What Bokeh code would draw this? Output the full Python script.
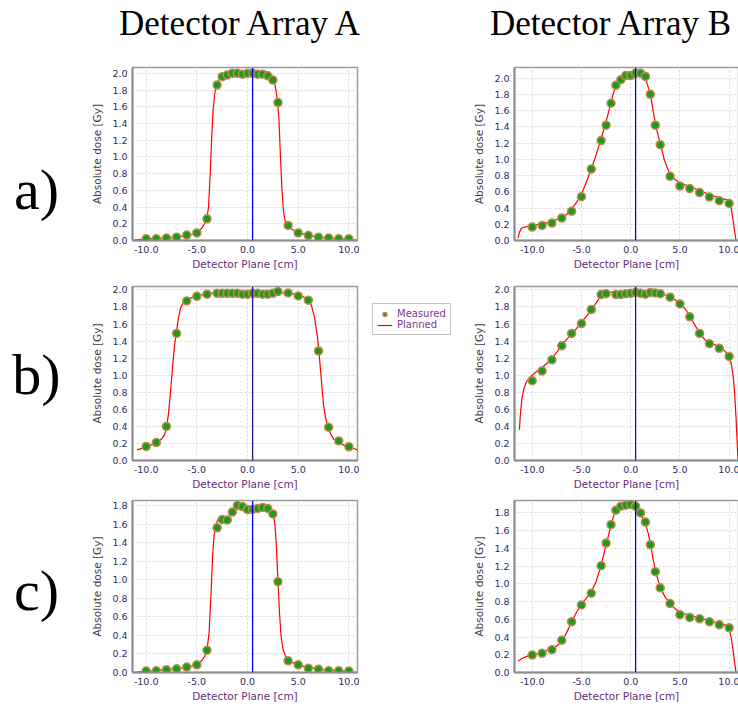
from bokeh.plotting import figure
from bokeh.layouts import column, row, Spacer
from bokeh.models import (Span, Legend, LegendItem, FixedTicker,
                          PrintfTickFormatter, Range1d)
from bokeh.core.properties import value
from bokeh.embed import file_html
from bokeh.resources import INLINE

# ---------------- data ----------------
x_ticks = [-10, -5, 0, 5, 10]
y_ticks_20 = [0.0, 0.2, 0.4, 0.6, 0.8, 1.0, 1.2, 1.4, 1.6, 1.8, 2.0]
y_ticks_18 = [0.0, 0.2, 0.4, 0.6, 0.8, 1.0, 1.2, 1.4, 1.6, 1.8]
ref_line_cm = 0.5
column_titles = ["Detector Array A", "Detector Array B"]
row_labels = ["a)", "b)", "c)"]
series_names = ["Measured", "Planned"]

det_pos = [-10, -9, -8, -7, -6, -5, -4, -3, -2.5, -2, -1.5, -1, -0.5, 0,
           0.5, 1, 1.5, 2, 2.5, 3, 4, 5, 6, 7, 8, 9, 10]
det_pos_bb = [-10, -9, -8, -7, -6, -5, -4, -3, -2.5, -1.5, -1, -0.5, 0,
              0.5, 1, 1.5, 2, 2.5, 3, 4, 5, 6, 7, 8, 9, 10]

# a) Array A
meas_aA = [0.02, 0.02, 0.03, 0.04, 0.065, 0.09, 0.26, 1.86, 1.96, 1.98, 2.0, 2.0,
           1.99, 2.0, 2.0, 1.99, 1.99, 1.97, 1.92, 1.65, 0.18, 0.09, 0.06, 0.04,
           0.03, 0.02, 0.02]
plan_x_aA = [-11.2, -10.5, -10, -9, -8, -7, -6, -5.5, -5, -4.5, -4.2, -4.0, -3.85,
             -3.7, -3.55, -3.4, -3.25, -3.1, -2.9, -2.7, -2.4, -2.0, -1.5, -1.0,
             -0.5, 0, 0.5, 1.0, 1.5, 2.0, 2.4, 2.65, 2.8, 2.95, 3.1, 3.25, 3.4,
             3.55, 3.7, 3.9, 4.2, 4.6, 5, 5.5, 6, 7, 8, 9, 10, 10.7]
plan_y_aA = [0.005, 0.015, 0.02, 0.025, 0.03, 0.04, 0.06, 0.075, 0.10, 0.15, 0.21,
             0.27, 0.4, 0.75, 1.2, 1.55, 1.75, 1.84, 1.91, 1.95, 1.97, 1.99, 2.0,
             2.0, 2.0, 2.0, 2.0, 2.0, 1.99, 1.97, 1.94, 1.90, 1.8, 1.68, 1.45, 1.0,
             0.6, 0.35, 0.24, 0.18, 0.15, 0.12, 0.10, 0.08, 0.06, 0.04, 0.03, 0.02,
             0.015, 0.005]

# a) Array B
meas_aB = [0.165, 0.185, 0.214, 0.276, 0.36, 0.54, 0.88, 1.23, 1.42, 1.69, 1.91,
           1.98, 2.03, 2.03, 2.06, 2.06, 2.02, 1.80, 1.42, 1.18, 0.79, 0.67, 0.64,
           0.59, 0.535, 0.49, 0.457]
plan_x_aB = [-11.45, -11.3, -11.1, -10.8, -10.4, -10, -9, -8, -7, -6.5, -6, -5.5,
             -5, -4.5, -4, -3.5, -3, -2.5, -2, -1.7, -1.4, -1, -0.5, 0, 0.5, 1.0,
             1.3, 1.6, 2.0, 2.3, 2.6, 3.0, 3.4, 3.7, 4.0, 4.5, 5, 6, 7, 8, 9, 9.5,
             9.8, 10.0, 10.2, 10.4, 10.55, 10.7]
plan_y_aB = [0.03, 0.1, 0.15, 0.165, 0.175, 0.185, 0.205, 0.235, 0.28, 0.32, 0.39,
             0.47, 0.57, 0.72, 0.88, 1.06, 1.25, 1.46, 1.70, 1.84, 1.92, 1.98, 2.02,
             2.04, 2.07, 2.07, 2.04, 1.96, 1.80, 1.58, 1.38, 1.20, 1.0, 0.9, 0.82,
             0.75, 0.71, 0.665, 0.615, 0.565, 0.525, 0.51, 0.5, 0.48, 0.40, 0.25,
             0.12, 0.0]

# b) Array A
meas_bA = [0.165, 0.21, 0.40, 1.49, 1.87, 1.925, 1.95, 1.96, 1.96, 1.96, 1.96,
           1.96, 1.95, 1.95, 1.96, 1.96, 1.95, 1.95, 1.96, 1.98, 1.965, 1.93, 1.88,
           1.285, 0.39, 0.23, 0.16]
plan_x_bA = [-10.9, -10.5, -10, -9.5, -9, -8.5, -8.2, -8.0, -7.8, -7.6, -7.4, -7.2,
             -7.0, -6.8, -6.6, -6.3, -6.0, -5.5, -5, -4, -3, -2, -1, 0, 1, 2, 3, 4,
             5, 5.5, 6, 6.3, 6.6, 6.9, 7.1, 7.3, 7.5, 7.7, 7.9, 8.2, 8.5, 9, 9.5,
             10, 10.5, 10.9]
plan_y_bA = [0.125, 0.14, 0.16, 0.18, 0.21, 0.25, 0.30, 0.38, 0.55, 0.8, 1.1, 1.35,
             1.52, 1.68, 1.79, 1.86, 1.89, 1.91, 1.93, 1.955, 1.97, 1.975, 1.975,
             1.975, 1.975, 1.97, 1.97, 1.96, 1.945, 1.92, 1.88, 1.82, 1.68, 1.45,
             1.2, 0.92, 0.65, 0.5, 0.4, 0.31, 0.25, 0.21, 0.18, 0.16, 0.14, 0.12]

# b) Array B
meas_bB = [0.935, 1.05, 1.18, 1.345, 1.49, 1.605, 1.77, 1.945, 1.955, 1.945, 1.945,
           1.955, 1.96, 1.97, 1.96, 1.95, 1.97, 1.965, 1.955, 1.915, 1.835, 1.685,
           1.49, 1.37, 1.315, 1.22]
plan_x_bB = [-11.3, -11.2, -11.05, -10.85, -10.6, -10.3, -10, -9.5, -9, -8.5, -8,
             -7.5, -7, -6.5, -6, -5.5, -5, -4.5, -4, -3.5, -3, -2.5, -2, -1, 0, 1,
             2, 2.5, 3, 3.5, 4, 4.5, 5, 5.5, 6, 6.5, 7, 7.5, 8, 8.5, 9, 9.5, 10,
             10.2, 10.4, 10.55, 10.7, 10.8, 10.9]
plan_y_bB = [0.36, 0.55, 0.72, 0.84, 0.92, 0.97, 1.0, 1.05, 1.09, 1.14, 1.20, 1.27,
             1.35, 1.42, 1.48, 1.55, 1.62, 1.69, 1.76, 1.85, 1.93, 1.965, 1.975,
             1.98, 1.98, 1.98, 1.98, 1.975, 1.96, 1.94, 1.92, 1.885, 1.84, 1.78,
             1.70, 1.59, 1.50, 1.42, 1.38, 1.36, 1.33, 1.29, 1.22, 1.14, 1.0, 0.8,
             0.5, 0.25, 0.0]

# c) Array A
meas_cA = [0.015, 0.018, 0.03, 0.04, 0.058, 0.083, 0.24, 1.56, 1.65, 1.645, 1.73,
           1.80, 1.79, 1.757, 1.76, 1.77, 1.78, 1.77, 1.71, 0.98, 0.126, 0.083,
           0.047, 0.036, 0.018, 0.018, 0.015]
plan_x_cA = [-11.2, -10.5, -10, -9, -8, -7, -6, -5.5, -5, -4.5, -4.2, -4.0, -3.8,
             -3.6, -3.45, -3.3, -3.1, -2.9, -2.7, -2.5, -2.3, -2.0, -1.7, -1.4,
             -1.1, -0.8, -0.5, -0.2, 0, 0.5, 1, 1.5, 2, 2.3, 2.55, 2.7, 2.85, 3.0,
             3.15, 3.3, 3.5, 3.8, 4.2, 5, 6, 7, 8, 9, 10, 10.8]
plan_y_cA = [0.0, 0.01, 0.012, 0.02, 0.03, 0.04, 0.055, 0.07, 0.09, 0.13, 0.18,
             0.25, 0.42, 0.85, 1.25, 1.48, 1.6, 1.66, 1.67, 1.66, 1.64, 1.645, 1.69,
             1.75, 1.79, 1.80, 1.79, 1.76, 1.75, 1.75, 1.755, 1.76, 1.755, 1.74,
             1.70, 1.6, 1.35, 1.0, 0.65, 0.4, 0.25, 0.16, 0.12, 0.08, 0.055, 0.04,
             0.025, 0.02, 0.01, 0.0]

# c) Array B
meas_cB = [0.197, 0.216, 0.258, 0.364, 0.572, 0.762, 0.894, 1.205, 1.46, 1.667,
           1.83, 1.875, 1.887, 1.895, 1.876, 1.80, 1.697, 1.44, 1.137, 0.955,
           0.777, 0.652, 0.621, 0.606, 0.572, 0.538, 0.504]
plan_x_cB = [-11.45, -11, -10.5, -10, -9, -8, -7.5, -7, -6.5, -6, -5.5, -5, -4.5,
             -4, -3.5, -3, -2.5, -2, -1.7, -1.4, -1, -0.5, 0, 0.3, 0.6, 1.0, 1.5,
             1.8, 2.0, 2.5, 3.0, 3.5, 4.0, 4.5, 5, 6, 7, 8, 9, 9.5, 9.8, 10.0,
             10.2, 10.4, 10.55, 10.7]
plan_y_cB = [0.13, 0.16, 0.185, 0.2, 0.225, 0.27, 0.30, 0.35, 0.45, 0.57, 0.68,
             0.77, 0.84, 0.91, 1.03, 1.21, 1.44, 1.66, 1.78, 1.845, 1.875, 1.885,
             1.89, 1.88, 1.85, 1.79, 1.68, 1.56, 1.45, 1.15, 0.96, 0.85, 0.78, 0.72,
             0.68, 0.645, 0.615, 0.585, 0.555, 0.54, 0.52, 0.49, 0.40, 0.25, 0.12,
             0.0]

# ---------------- styling / layout ----------------
XR_A = (-11.35, 10.85)
XR_B = (-11.8, 10.95)
TICK_COLOR = "#2e2e5e"
XLAB_COLOR = "#6a2c7a"
YLAB_COLOR = "#4a3c3c"
MEAS_STYLE = dict(size=8, fill_color="#1f9a1f", line_color="#c28a50", line_width=1.5)
PLAN_STYLE = dict(line_color="#ff0000", line_width=1.2)

W_LAB, W_MID = 70, 100
H_TITLE = 48
# vertical geometry of each row: (border top, frame height, border bottom)
ROW_GEOM = [(19, 173, 38), (8, 174, 32), (8, 172, 35)]
ROW_TOP = [48, 278, 492]          # page y of each row's top edge


def make_panel(mx, my, px, py, xr, yr, yt, fw, bl, br, geom, vcol):
    bt, fh, bb = geom
    p = figure(width=bl + fw + br, height=bt + fh + bb,
               frame_width=fw, frame_height=fh,
               min_border_left=bl, min_border_right=br,
               min_border_top=bt, min_border_bottom=bb,
               x_range=Range1d(*xr), y_range=Range1d(*yr), title=None,
               output_backend="svg", toolbar_location=None,
               background_fill_color="white", border_fill_color="white")
    p.line(px, py, **PLAN_STYLE)
    p.scatter(mx, my, **MEAS_STYLE)
    p.add_layout(Span(location=ref_line_cm, dimension="height",
                      line_color=vcol, line_width=1.3))
    p.xaxis.ticker = FixedTicker(ticks=x_ticks)
    p.yaxis.ticker = FixedTicker(ticks=yt)
    for ax in (p.xaxis[0], p.yaxis[0]):
        ax.formatter = PrintfTickFormatter(format="%.1f")
        ax.major_tick_in = 0
        ax.major_tick_out = 0
        ax.minor_tick_in = 0
        ax.minor_tick_out = 0
        ax.major_label_standoff = 5
        ax.major_label_text_font = "DejaVu Sans"
        ax.major_label_text_font_size = "9.5px"
        ax.major_label_text_color = TICK_COLOR
        ax.axis_label_text_font = "DejaVu Sans"
        ax.axis_label_text_font_size = "10.5px"
        ax.axis_label_text_font_style = "normal"
        ax.axis_line_color = "#8c8c8c"
        ax.axis_line_width = 2
    p.xaxis.axis_label = "Detector Plane [cm]"
    p.xaxis.axis_label_text_color = XLAB_COLOR
    p.xaxis.axis_label_standoff = 2
    p.yaxis.axis_label = "Absolute dose [Gy]"
    p.yaxis.axis_label_text_color = YLAB_COLOR
    p.yaxis.axis_label_standoff = 6
    p.outline_line_color = "#9a9a9a"
    p.outline_line_width = 1.5
    for g in (p.xgrid[0], p.ygrid[0]):
        g.grid_line_color = "#d6d6d6"
        g.grid_line_dash = "2 2"
        g.grid_line_width = 1
    return p


def blank(w, h, bt=0, bb=0, xr=None, yr=None):
    fh = h - bt - bb
    p = figure(width=w, height=h, frame_width=w, frame_height=fh,
               x_range=Range1d(*(xr or (0, w))), y_range=Range1d(*(yr or (0, fh))),
               title=None,
               min_border_left=0, min_border_right=0,
               min_border_top=bt, min_border_bottom=bb,
               x_axis_type=None, y_axis_type=None,
               output_backend="svg", toolbar_location=None,
               background_fill_color="white", border_fill_color="white")
    p.outline_line_color = None
    p.grid.visible = False
    return p


# title strip (y measured upward from its bottom edge)
title_fig = blank(738, H_TITLE)
title_cx = [241, 611]
title_cy = [23, 23]
title_fig.text(x=title_cx, y=[H_TITLE - v for v in title_cy], text=column_titles,
               text_font=value("Liberation Serif"), text_font_size=value("35px"),
               text_align="center", text_baseline="middle", text_color="black")

# row label strips: their frames line up with the panel frames of the row,
# and their y range is expressed in page pixels (top of page = 0)
label_figs = []
label_cy = [189, 374, 590]
for lab, (bt, fh, bb), top, yc in zip(row_labels, ROW_GEOM, ROW_TOP, label_cy):
    f_top = top + bt
    lf = blank(W_LAB, bt + fh + bb, bt, bb, yr=(f_top + fh, f_top))
    lf.text(x=[36], y=[yc], text=[lab], text_font=value("Liberation Serif"),
            text_font_size=value("58px"), text_align="center",
            text_baseline="middle", text_color="black")
    label_figs.append(lf)

# panels  (frame width, border left, border right)
pAa = make_panel(det_pos, meas_aA, plan_x_aA, plan_y_aA, XR_A, (0, 2.07),
                 y_ticks_20, 225, 62, 13, ROW_GEOM[0], "#0000ff")
pBa = make_panel(det_pos, meas_aB, plan_x_aB, plan_y_aB, XR_B, (0, 2.13),
                 y_ticks_20, 224, 43, 1, ROW_GEOM[0], "#0000ff")
pAb = make_panel(det_pos, meas_bA, plan_x_bA, plan_y_bA, XR_A, (0, 2.04),
                 y_ticks_20, 225, 62, 13, ROW_GEOM[1], "#1c1c8c")
pBb = make_panel(det_pos_bb, meas_bB, plan_x_bB, plan_y_bB, XR_B, (0, 2.04),
                 y_ticks_20, 224, 43, 1, ROW_GEOM[1], "#1c1c8c")
pAc = make_panel(det_pos, meas_cA, plan_x_cA, plan_y_cA, XR_A, (0, 1.855),
                 y_ticks_18, 225, 62, 13, ROW_GEOM[2], "#0000ff")
pBc = make_panel(det_pos, meas_cB, plan_x_cB, plan_y_cB, XR_B, (0, 1.94),
                 y_ticks_18, 224, 43, 1, ROW_GEOM[2], "#0000ff")

# legend strip between the b) panels; its ranges lie far from the data,
# so the series themselves stay out of view and only the legend shows
bt, fh, bb = ROW_GEOM[1]
leg_fig = blank(W_MID, bt + fh + bb, bt, bb,
                xr=(1000, 1000 + W_MID), yr=(1000, 1000 + fh))
sr = leg_fig.scatter(det_pos_bb, meas_bB, **MEAS_STYLE)
lr = leg_fig.line(plan_x_bB, plan_y_bB, **PLAN_STYLE)
legend = Legend(items=[LegendItem(label=series_names[0], renderers=[sr]),
                       LegendItem(label=series_names[1], renderers=[lr])],
                location=(2, 125))
legend.border_line_color = "#8a8a8a"
legend.border_line_width = 1
legend.background_fill_color = "white"
legend.background_fill_alpha = 1
legend.label_text_color = "#7a3a8a"
legend.label_text_font = "DejaVu Sans"
legend.label_text_font_size = "10px"
legend.padding = 4
legend.spacing = 0
legend.margin = 0
legend.glyph_width = 15
legend.glyph_height = 10
legend.label_height = 10
legend.label_standoff = 5
leg_fig.add_layout(legend)

layout = column(
    title_fig,
    row(label_figs[0], pAa, Spacer(width=W_MID, height=sum(ROW_GEOM[0])), pBa),
    row(label_figs[1], pAb, leg_fig, pBb),
    row(label_figs[2], pAc, Spacer(width=W_MID, height=sum(ROW_GEOM[2])), pBc),
)

open("out.html", "w").write(file_html(layout, INLINE))
